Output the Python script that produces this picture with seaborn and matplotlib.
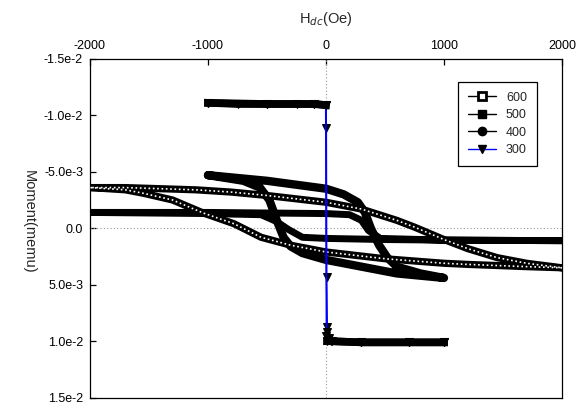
import numpy as np
import pandas as pd
import seaborn as sns
import matplotlib.pyplot as plt
from matplotlib.lines import Line2D

# loops: field in Oe, moment in emu
# 600: descending branch then ascending branch
h600 = [2000, 1700, 1450, 1200, 1000, 750, 500, 250, 0, -300, -550, -780, -1040, -1300, -1550, -1700, -2000,
        -1700, -1400, -1100, -800, -500, -250, 0, 300, 600, 750, 1000, 1200, 1450, 1700, 2000]
m600 = [0.0035, 0.0034, 0.0033, 0.0032, 0.0031, 0.0029, 0.0027, 0.0024, 0.0021, 0.0015, 0.0008, -0.0004, -0.00135,
        -0.0025, -0.0031, -0.0034, -0.0036,
        -0.0036, -0.0035, -0.0034, -0.0032, -0.0029, -0.0026, -0.0023, -0.0017, -0.0007, -0.0001, 0.0010, 0.0018,
        0.0026, 0.0031, 0.0035]

h500 = [2000, 1000, 500, 0, -200, -320, -420, -550, -1000, -2000,
        -1000, 0, 200, 300, 360, 460, 1000, 2000]
m500 = [0.0011, 0.00105, 0.0010, 0.0009, 0.0008, 0.0001, -0.0006, -0.0012, -0.0013, -0.0014,
        -0.0014, -0.0013, -0.0012, -0.0007, 0.0002, 0.0009, 0.00105, 0.0011]

h400 = [-1000, -500, 0, 150, 270, 330, 380, 450, 520, 600, 800, 1000,
        600, 300, 0, -200, -300, -360, -410, -480, -560, -700, -1000]
m400 = [-0.0047, -0.0042, -0.0035, -0.0030, -0.0023, -0.0014, 0.0000, 0.0015, 0.0026, 0.0034, 0.0040, 0.0044,
        0.0040, 0.0034, 0.0028, 0.0022, 0.0016, 0.0008, -0.0005, -0.0025, -0.0036, -0.0042, -0.0047]

h300_up = [-1000, -750, -500, -250, -100, 0, 2, 5, 10, 25, 45, 300, 700, 1000]
m300_up = [-0.0111, -0.0110, -0.0110, -0.0110, -0.0110, -0.0109, -0.0089, 0.0043, 0.0087, 0.0097, 0.0100,
           0.0101, 0.0101, 0.0101]
h300_dn = [1000, 700, 300, 50, 8, 6, 4, -2, -100, -500, -1000]
m300_dn = [0.0101, 0.0101, 0.0101, 0.0100, 0.0100, 0.0092, 0.0095, -0.0109, -0.0110, -0.0110, -0.0111]

legend_labels = ["600", "500", "400", "300"]
xticks = [-2000, -1000, 0, 1000, 2000]
yticks = [-0.015, -0.010, -0.005, 0.0, 0.005, 0.010, 0.015]
ytick_labels = ["-1.5e-2", "-1.0e-2", "-5.0e-3", "0.0", "5.0e-3", "1.0e-2", "1.5e-2"]

sns.set_style("ticks")
plt.rcParams['font.family'] = ['Liberation Sans', 'DejaVu Sans']

fig = plt.figure(figsize=(5.85, 4.03), dpi=100)
ax = fig.add_axes([90 / 585, 1 - 397.7 / 403, 472 / 585, 338.9 / 403])

# zero lines
ax.axhline(0, color='#999999', lw=0.8, ls=(0, (1, 2)), zorder=1)
ax.axvline(0, color='#999999', lw=0.8, ls=(0, (1, 2)), zorder=1)

df400 = pd.DataFrame({"H": h400, "M": m400})
sns.lineplot(data=df400, x="H", y="M", sort=False, estimator=None, ax=ax, color='black', lw=6,
             solid_capstyle='round', solid_joinstyle='round', zorder=3)

df500 = pd.DataFrame({"H": h500, "M": m500})
sns.lineplot(data=df500, x="H", y="M", sort=False, estimator=None, ax=ax, color='black', lw=5,
             solid_capstyle='projecting', solid_joinstyle='round', zorder=4)

df600 = pd.DataFrame({"H": h600, "M": m600})
sns.lineplot(data=df600, x="H", y="M", sort=False, estimator=None, ax=ax, color='black', lw=5.2,
             solid_capstyle='projecting', solid_joinstyle='round', zorder=5)
sns.lineplot(data=df600, x="H", y="M", sort=False, estimator=None, ax=ax, color='white', lw=1.2,
             linestyle=(0, (1, 1.6)), zorder=6)

# 300: thin blue line with triangles, dense points make the flat parts a solid band
for hh, mm in [(h300_up, m300_up), (h300_dn, m300_dn)]:
    hh = np.array(hh, dtype=float)
    mm = np.array(mm, dtype=float)
    band = np.where(np.abs(mm) > 0.0099, mm, np.nan)
    sns.lineplot(x=hh, y=mm, sort=False, estimator=None, ax=ax, color='blue', lw=1.2,
                 marker='v', markersize=6, markerfacecolor='black', markeredgecolor='black', zorder=8)
    ax.plot(hh, band, color='black', lw=5.5, solid_capstyle='projecting', zorder=9)

ax.set_xlim(-2000, 2000)
ax.set_ylim(0.015, -0.015)
ax.xaxis.tick_top()
ax.set_xticks(xticks)
ax.set_xticklabels([str(t) for t in xticks])
ax.set_yticks(yticks)
ax.set_yticklabels(ytick_labels)
ax.tick_params(direction='in', length=4, width=0.9, labelsize=9, pad=5, colors='black')
ax.tick_params(axis='x', top=True, bottom=False)
for sp in ax.spines.values():
    sp.set_visible(True)
    sp.set_linewidth(0.9)
    sp.set_color('black')

ax.set_xlabel("H$_{dc}$(Oe)", fontsize=10.5, va='center')
ax.xaxis.set_label_position('top')
ax.xaxis.set_label_coords(0.5, 1.105)
ax.set_ylabel("Moment(memu)", fontsize=10.5, rotation=270, va='center', ha='center')
ax.yaxis.set_label_coords(-0.13, 0.52)

handles = [
    Line2D([], [], color='black', lw=1, marker='s', markersize=5.5, markerfacecolor='white',
           markeredgecolor='black', markeredgewidth=2),
    Line2D([], [], color='black', lw=1, marker='s', markersize=5.5),
    Line2D([], [], color='black', lw=1, marker='o', markersize=6),
    Line2D([], [], color='blue', lw=1, marker='v', markersize=6, markerfacecolor='black',
           markeredgecolor='black'),
]
leg = ax.legend(handles, legend_labels, loc='upper right', bbox_to_anchor=(0.947, 0.932),
                borderaxespad=0, fontsize=9, frameon=True, fancybox=False, framealpha=1,
                edgecolor='black', handlelength=2.2, handletextpad=0.8, labelspacing=0.43,
                borderpad=0.8)
leg.get_frame().set_linewidth(0.9)

fig.savefig("out.png", dpi=100)
